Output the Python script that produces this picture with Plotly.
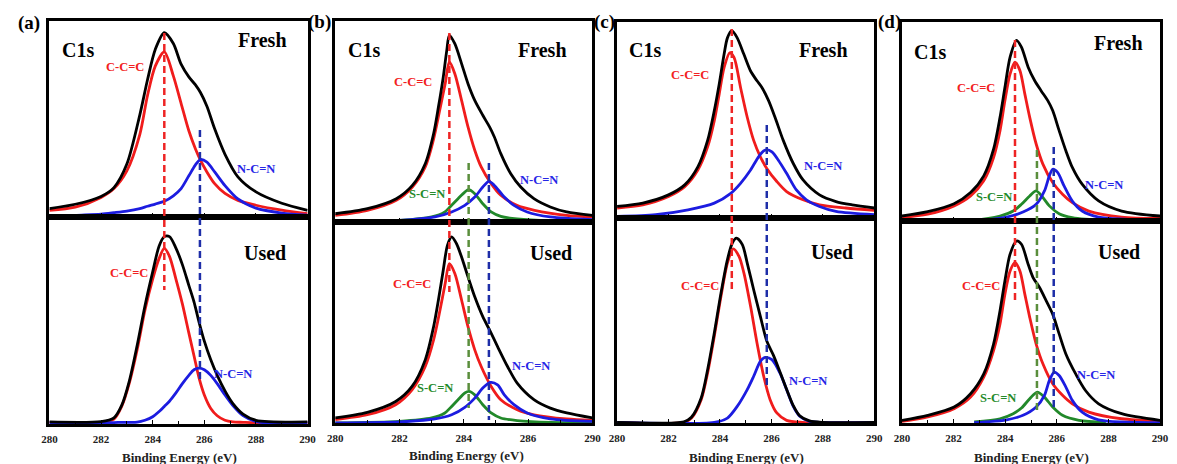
import plotly.graph_objects as go

W, H = 1177, 464

# ================= DATA (binding energy in eV, intensity normalised 0..1) =================
# ---- panel (a) Fresh ----
af_x = [280, 281, 282, 282.5, 283, 283.5, 283.8, 284.1, 284.45, 284.8, 285.1, 285.4, 285.65, 285.85, 286.1, 286.4, 286.8, 287.3, 288, 289, 290]
af_red = [0.034, 0.05, 0.1, 0.145, 0.235, 0.42, 0.62, 0.77, 0.842, 0.72, 0.58, 0.44, 0.35, 0.29, 0.23, 0.17, 0.12, 0.085, 0.06, 0.035, 0.017]
af_blue = [0.0, 0.008, 0.015, 0.022, 0.03, 0.043, 0.055, 0.066, 0.08, 0.108, 0.145, 0.21, 0.265, 0.293, 0.28, 0.23, 0.16, 0.092, 0.045, 0.02, 0.009]
af_black = [0.043, 0.065, 0.105, 0.15, 0.27, 0.52, 0.70, 0.855, 0.94, 0.885, 0.78, 0.715, 0.675, 0.635, 0.565, 0.45, 0.32, 0.205, 0.128, 0.07, 0.034]

# ---- panel (a) Used ----
au_x = [280, 282, 282.5, 282.8, 283.1, 283.4, 283.7, 284.0, 284.25, 284.45, 284.65, 284.9, 285.15, 285.4, 285.6, 285.8, 286.0, 286.25, 286.5, 286.8, 287.1, 287.5, 288, 290]
au_red = [0.008, 0.008, 0.024, 0.085, 0.2, 0.36, 0.55, 0.70, 0.80, 0.848, 0.81, 0.70, 0.58, 0.44, 0.33, 0.22, 0.14, 0.075, 0.04, 0.018, 0.01, 0.008, 0.006, 0.005]
au_blue = [0.006, 0.007, 0.007, 0.008, 0.008, 0.009, 0.018, 0.035, 0.06, 0.085, 0.11, 0.15, 0.195, 0.235, 0.262, 0.27, 0.262, 0.235, 0.195, 0.14, 0.09, 0.04, 0.012, 0.006]
au_black = [0.01, 0.012, 0.03, 0.09, 0.21, 0.38, 0.57, 0.735, 0.86, 0.905, 0.905, 0.85, 0.77, 0.67, 0.59, 0.49, 0.40, 0.31, 0.235, 0.16, 0.10, 0.048, 0.018, 0.01]

# ---- panel (b) Fresh ----
bf_red_x = [280, 281, 281.9, 282.4, 282.8, 283.05, 283.25, 283.42, 283.55, 283.72, 283.93, 284.13, 284.34, 284.54, 284.85, 285.15, 285.65, 286.2, 287.2, 288]
bf_red_y = [0.033, 0.058, 0.108, 0.174, 0.274, 0.406, 0.556, 0.688, 0.796, 0.738, 0.605, 0.473, 0.357, 0.274, 0.191, 0.133, 0.083, 0.058, 0.033, 0.025]
bf_black_x = [280, 281, 281.9, 282.4, 282.8, 283.06, 283.21, 283.36, 283.47, 283.55, 283.72, 283.93, 284.13, 284.34, 284.59, 284.8, 284.95, 285.15, 285.46, 285.77, 286.18, 286.69, 287.2, 288]
bf_black_y = [0.041, 0.066, 0.116, 0.182, 0.29, 0.439, 0.572, 0.721, 0.854, 0.929, 0.887, 0.788, 0.688, 0.605, 0.531, 0.473, 0.423, 0.34, 0.24, 0.174, 0.116, 0.075, 0.05, 0.033]
bf_green_x = [280, 282, 283.0, 283.41, 283.57, 283.82, 284.03, 284.15, 284.34, 284.59, 284.85, 285.15, 285.66, 286.7, 288]
bf_green_y = [0.005, 0.008, 0.025, 0.05, 0.075, 0.116, 0.149, 0.161, 0.141, 0.091, 0.05, 0.028, 0.015, 0.005, 0.003]
bf_blue_x = [280, 282, 283.1, 283.62, 284.03, 284.34, 284.59, 284.78, 284.95, 285.26, 285.56, 285.97, 286.69, 288]
bf_blue_y = [0.003, 0.008, 0.025, 0.05, 0.083, 0.124, 0.174, 0.202, 0.182, 0.124, 0.083, 0.05, 0.025, 0.012]

# ---- panel (b) Used ----
bu_red_x = [280, 281, 281.88, 282.39, 282.8, 283.06, 283.26, 283.42, 283.55, 283.72, 283.93, 284.13, 284.34, 284.54, 284.85, 285.15, 285.66, 286.18, 287.2, 288]
bu_red_y = [0.017, 0.041, 0.091, 0.165, 0.281, 0.413, 0.562, 0.694, 0.793, 0.744, 0.612, 0.479, 0.364, 0.281, 0.182, 0.116, 0.066, 0.041, 0.02, 0.013]
bu_black_x = [280, 281, 281.88, 282.39, 282.8, 283.06, 283.21, 283.36, 283.49, 283.62, 283.77, 283.93, 284.13, 284.34, 284.59, 284.8, 285.05, 285.36, 285.66, 286.18, 286.69, 287.2, 288]
bu_black_y = [0.025, 0.053, 0.107, 0.182, 0.314, 0.479, 0.612, 0.76, 0.884, 0.926, 0.893, 0.826, 0.727, 0.628, 0.529, 0.463, 0.38, 0.281, 0.198, 0.116, 0.074, 0.05, 0.025]
bu_green_x = [280, 282, 283.0, 283.41, 283.57, 283.82, 284.03, 284.16, 284.34, 284.59, 284.85, 285.15, 285.66, 286.7, 288]
bu_green_y = [0.0, 0.008, 0.025, 0.05, 0.074, 0.116, 0.149, 0.157, 0.14, 0.091, 0.05, 0.025, 0.012, 0.003, 0.002]
bu_blue_x = [280, 282, 283.1, 283.62, 284.03, 284.34, 284.59, 284.82, 285.05, 285.26, 285.56, 285.97, 286.69, 288]
bu_blue_y = [0.0, 0.005, 0.02, 0.041, 0.078, 0.124, 0.174, 0.202, 0.19, 0.14, 0.091, 0.05, 0.021, 0.008]

# ---- panel (c) Fresh ----
cf_red_x = [280, 281, 282, 282.63, 283.14, 283.52, 283.78, 283.97, 284.16, 284.38, 284.55, 284.8, 285.06, 285.31, 285.57, 285.82, 286.21, 286.59, 287.23, 287.87, 288.89, 290]
cf_red_y = [0.051, 0.067, 0.11, 0.16, 0.245, 0.363, 0.497, 0.632, 0.767, 0.843, 0.818, 0.666, 0.514, 0.396, 0.312, 0.253, 0.186, 0.135, 0.093, 0.067, 0.051, 0.039]
cf_black_x = [280, 281, 282, 282.63, 283.14, 283.52, 283.78, 283.97, 284.16, 284.29, 284.46, 284.67, 284.93, 285.19, 285.44, 285.63, 285.89, 286.14, 286.46, 286.85, 287.23, 287.87, 288.51, 289.14, 290]
cf_black_y = [0.059, 0.076, 0.118, 0.169, 0.261, 0.396, 0.548, 0.683, 0.835, 0.919, 0.956, 0.919, 0.835, 0.75, 0.7, 0.666, 0.599, 0.514, 0.396, 0.278, 0.194, 0.118, 0.084, 0.067, 0.051]
cf_blue_x = [280, 281.5, 282.76, 283.78, 284.42, 284.8, 285.19, 285.5, 285.7, 285.82, 286.02, 286.27, 286.59, 286.97, 287.36, 287.87, 288.51, 290]
cf_blue_y = [0.008, 0.017, 0.042, 0.076, 0.126, 0.177, 0.245, 0.312, 0.342, 0.349, 0.337, 0.295, 0.228, 0.143, 0.093, 0.059, 0.034, 0.017]

# ---- panel (c) Used ----
cu_red_x = [280, 282.6, 282.89, 283.27, 283.52, 283.78, 284.04, 284.29, 284.51, 284.74, 284.93, 285.19, 285.44, 285.7, 285.95, 286.21, 286.59, 287.2, 290]
cu_red_y = [0.003, 0.003, 0.024, 0.114, 0.244, 0.423, 0.618, 0.78, 0.849, 0.813, 0.732, 0.569, 0.39, 0.228, 0.114, 0.049, 0.013, 0.003, 0.003]
cu_blue_x = [280, 283.78, 284.29, 284.67, 285.06, 285.31, 285.57, 285.76, 286.02, 286.33, 286.59, 286.85, 287.1, 287.48, 288, 290]
cu_blue_y = [0.003, 0.003, 0.024, 0.081, 0.163, 0.228, 0.301, 0.32, 0.309, 0.244, 0.163, 0.081, 0.033, 0.008, 0.003, 0.003]
cu_black_x = [280, 282.6, 282.89, 283.27, 283.52, 283.78, 284.04, 284.29, 284.48, 284.64, 284.87, 285.06, 285.31, 285.57, 285.82, 286.08, 286.33, 286.59, 286.85, 287.1, 287.48, 288, 290]
cu_black_y = [0.003, 0.006, 0.028, 0.122, 0.26, 0.439, 0.634, 0.797, 0.878, 0.902, 0.87, 0.78, 0.65, 0.52, 0.40, 0.33, 0.25, 0.165, 0.085, 0.035, 0.01, 0.003, 0.003]

# ---- panel (d) Fresh ----
df_red_x = [280, 281, 282.02, 282.66, 283.17, 283.55, 283.8, 283.99, 284.19, 284.38, 284.57, 284.76, 284.95, 285.2, 285.46, 285.84, 286.22, 286.6, 287.24, 288.51, 290]
df_red_y = [0.017, 0.034, 0.076, 0.126, 0.202, 0.319, 0.454, 0.605, 0.739, 0.798, 0.756, 0.639, 0.521, 0.387, 0.286, 0.193, 0.134, 0.092, 0.05, 0.02, 0.013]
df_black_x = [280, 281, 282.02, 282.66, 283.17, 283.55, 283.8, 283.99, 284.19, 284.44, 284.63, 284.89, 285.14, 285.39, 285.65, 285.84, 286.09, 286.35, 286.6, 286.98, 287.62, 288.51, 290]
df_black_y = [0.025, 0.047, 0.087, 0.143, 0.227, 0.361, 0.521, 0.672, 0.824, 0.908, 0.874, 0.773, 0.706, 0.655, 0.605, 0.555, 0.454, 0.353, 0.269, 0.185, 0.101, 0.05, 0.025]
df_green_x = [280, 282.8, 283.8, 284.31, 284.63, 284.95, 285.2, 285.46, 285.71, 286.09, 286.6, 287.9, 290]
df_green_y = [0.0, 0.005, 0.025, 0.05, 0.084, 0.126, 0.151, 0.118, 0.076, 0.037, 0.017, 0.003, 0.0]
df_blue_x = [280, 282.8, 284.06, 284.69, 285.2, 285.52, 285.71, 285.84, 286.03, 286.28, 286.6, 286.98, 287.62, 290]
df_blue_y = [0.0, 0.003, 0.02, 0.045, 0.084, 0.151, 0.227, 0.26, 0.244, 0.176, 0.1, 0.05, 0.02, 0.005]

# ---- panel (d) Used ----
du_red_x = [280, 281, 282.02, 282.66, 283.17, 283.55, 283.8, 283.99, 284.19, 284.38, 284.57, 284.76, 284.95, 285.2, 285.46, 285.84, 286.22, 286.6, 287.24, 288.51, 290]
du_red_y = [0.008, 0.03, 0.071, 0.128, 0.227, 0.359, 0.49, 0.638, 0.753, 0.794, 0.753, 0.638, 0.523, 0.391, 0.293, 0.194, 0.137, 0.095, 0.054, 0.021, 0.01]
du_black_x = [280, 281, 282.02, 282.66, 283.17, 283.55, 283.8, 283.99, 284.19, 284.44, 284.63, 284.89, 285.08, 285.33, 285.59, 285.84, 286.09, 286.35, 286.73, 287.11, 287.62, 288.51, 290]
du_black_y = [0.013, 0.038, 0.079, 0.145, 0.243, 0.391, 0.556, 0.704, 0.836, 0.901, 0.885, 0.786, 0.72, 0.671, 0.605, 0.539, 0.441, 0.342, 0.243, 0.161, 0.095, 0.046, 0.013]
du_green_x = [282.8, 283.8, 284.31, 284.63, 284.95, 285.24, 285.52, 285.84, 286.22, 286.86, 287.9]
du_green_y = [0.005, 0.021, 0.046, 0.074, 0.12, 0.153, 0.128, 0.079, 0.038, 0.013, 0.003]
du_blue_x = [282.8, 284.06, 284.69, 285.2, 285.52, 285.71, 285.9, 286.09, 286.35, 286.6, 286.98, 287.62, 290]
du_blue_y = [0.002, 0.016, 0.038, 0.079, 0.137, 0.21, 0.252, 0.235, 0.178, 0.112, 0.054, 0.016, 0.002]

# peak centres (dashed guide lines)
a_centres = {"red": 284.45, "blue": 285.83}
b_centres = {"red": 283.55, "green": 284.15, "blue": 284.78}
c_centres = {"red": 284.46, "blue": 285.82}
d_centres = {"red": 284.38, "green": 285.23, "blue": 285.88}

# axis ticks
ticks_full = [280, 282, 284, 286, 288, 290]
ticks_full_text = ["280", "282", "284", "286", "288", "290"]
ticks_b = [280, 282, 284, 286, 288]
ticks_b_text = ["280", "282", "284", "286", "290"]
range_full = [280, 290]
range_b = [280, 288]

# ================= STYLE =================
RED, BLUE, GREEN, BLACK = "#f01c1c", "#1c1ce0", "#22892a", "#000000"
RED_D, BLUE_D, GREEN_D = "#ee2424", "#1e2ea8", "#5a8e3c"
SERIF = "Liberation Serif"
LW = 2.8

panels = [
    dict(x0=42, x1=304, top=21, mid=217, bot=424, rng=range_full, tv=ticks_full, tt=ticks_full_text,
         fresh=[(af_x, af_red, RED), (af_x, af_blue, BLUE), (af_x, af_black, BLACK)],
         used=[(au_x, au_red, RED), (au_x, au_blue, BLUE), (au_x, au_black, BLACK)],
         centres=a_centres,
         dashes={"red": (33, 290), "blue": (130, 383)}),
    dict(x0=332, x1=593, top=21, mid=222, bot=423, rng=range_b, tv=ticks_b, tt=ticks_b_text,
         fresh=[(bf_red_x, bf_red_y, RED), (bf_green_x, bf_green_y, GREEN), (bf_blue_x, bf_blue_y, BLUE), (bf_black_x, bf_black_y, BLACK)],
         used=[(bu_red_x, bu_red_y, RED), (bu_green_x, bu_green_y, GREEN), (bu_blue_x, bu_blue_y, BLUE), (bu_black_x, bu_black_y, BLACK)],
         centres=b_centres,
         dashes={"red": (33, 292), "green": (163, 408), "blue": (163, 420)}),
    dict(x0=618, x1=879, top=22, mid=218, bot=423, rng=range_full, tv=ticks_full, tt=ticks_full_text,
         fresh=[(cf_red_x, cf_red_y, RED), (cf_blue_x, cf_blue_y, BLUE), (cf_black_x, cf_black_y, BLACK)],
         used=[(cu_red_x, cu_red_y, RED), (cu_blue_x, cu_blue_y, BLUE), (cu_black_x, cu_black_y, BLACK)],
         centres=c_centres,
         dashes={"red": (29, 290), "blue": (125, 385)}),
    dict(x0=907, x1=1169, top=22, mid=221, bot=423, rng=range_full, tv=ticks_full, tt=ticks_full_text,
         fresh=[(df_red_x, df_red_y, RED), (df_green_x, df_green_y, GREEN), (df_blue_x, df_blue_y, BLUE), (df_black_x, df_black_y, BLACK)],
         used=[(du_red_x, du_red_y, RED), (du_green_x, du_green_y, GREEN), (du_blue_x, du_blue_y, BLUE), (du_black_x, du_black_y, BLACK)],
         centres=d_centres,
         dashes={"red": (40, 303), "green": (150, 413), "blue": (147, 407)}),
]
dash_colors = {"red": RED_D, "blue": BLUE_D, "green": GREEN_D}


def px(x, y):
    return x / W, 1 - y / H


fig = go.Figure()
layout = dict(width=W, height=H, margin=dict(l=0, r=0, t=0, b=0),
              paper_bgcolor="white", plot_bgcolor="white", showlegend=False)
shapes, annotations = [], []

for i, p in enumerate(panels):
    nt, nb = 2 * i + 1, 2 * i + 2
    xdom = [p["x0"] / W, p["x1"] / W]
    ydom_top = [1 - p["mid"] / H, 1 - p["top"] / H]
    ydom_bot = [1 - p["bot"] / H, 1 - p["mid"] / H]
    for n, ydom, show in ((nt, ydom_top, False), (nb, ydom_bot, True)):
        layout[f"xaxis{n}"] = dict(domain=xdom, range=p["rng"], anchor=f"y{n}", showline=True, mirror=True,
                                   linewidth=2.6, linecolor="black", showgrid=False, zeroline=False,
                                   ticks="inside", ticklen=4, tickwidth=1.2, tickcolor="black",
                                   tickvals=p["tv"], ticktext=p["tt"], showticklabels=show,
                                   ticklabelstandoff=3,
                                   tickfont=dict(family=SERIF, size=11, color="#222", weight="bold"),
                                   minor=dict(ticks="inside", ticklen=3, tickwidth=1, dtick=1, tick0=280, tickcolor="black"))
        layout[f"yaxis{n}"] = dict(domain=ydom, range=[0, 1], anchor=f"x{n}", showline=True, mirror=True,
                                   linewidth=2.6, linecolor="black", showgrid=False, zeroline=False,
                                   showticklabels=False, ticks="")
    for n, curves in ((nt, p["fresh"]), (nb, p["used"])):
        for xs, ys, col in curves:
            fig.add_trace(go.Scatter(x=xs, y=ys, mode="lines", xaxis=f"x{n}", yaxis=f"y{n}",
                                     line=dict(color=col, width=LW, shape="spline", smoothing=0.8),
                                     hoverinfo="skip"))
    for name, (ya, yb) in p["dashes"].items():
        shapes.append(dict(type="line", xref=f"x{nt}", yref="paper",
                           x0=p["centres"][name], x1=p["centres"][name],
                           y0=1 - ya / H, y1=1 - yb / H,
                           line=dict(color=dash_colors[name], width=2.5, dash="7px,4px")))

def add_text(txt, x, y, size, color="black"):
    ax, ay = px(x, y)
    annotations.append(dict(text=f"<b>{txt}</b>", x=ax, y=ay, xref="paper", yref="paper",
                            showarrow=False, xanchor="center", yanchor="middle",
                            font=dict(family=SERIF, size=size, color=color)))

# panel letters & headers
for t, (x, y) in zip(["(a)", "(b)", "(c)", "(d)"], [(21, 23), (316, 22), (605, 22), (894, 22)]):
    add_text(t, x, y, 19)
for x, y in [(71, 50), (361, 50), (646, 50), (936, 52)]:
    add_text("C1s", x, y, 20)
for x, y in [(258, 40), (542, 50), (827, 50), (1127, 43)]:
    add_text("Fresh", x, y, 20)
for x, y in [(261, 253), (551, 253), (836, 252), (1127, 252)]:
    add_text("Used", x, y, 20)
for x, y in [(119, 67), (123, 273), (411, 82), (410, 284), (692, 75), (702, 286), (982, 88), (987, 286)]:
    add_text("C-C=C", x, y, 12.5, "#f22020")
for x, y in [(252, 169), (228, 374), (539, 180), (531, 366), (827, 166), (812, 381), (1112, 185), (1104, 375)]:
    add_text("N-C=N", x, y, 12.5, "#2626e6")
for x, y in [(425, 194), (433, 388), (1000, 197), (1005, 398)]:
    add_text("S-C=N", x, y, 12.5, "#248a2a")
for x, y in [(174, 457), (465, 455), (749, 457), (1039, 457)]:
    add_text("Binding Energy (eV)", x, y, 13, "#222")

layout["shapes"] = shapes
layout["annotations"] = annotations
fig.update_layout(**layout)
fig.write_html("out.html", config={"displayModeBar": False},
               post_script="document.body.style.margin='0';document.body.style.overflow='hidden';")
